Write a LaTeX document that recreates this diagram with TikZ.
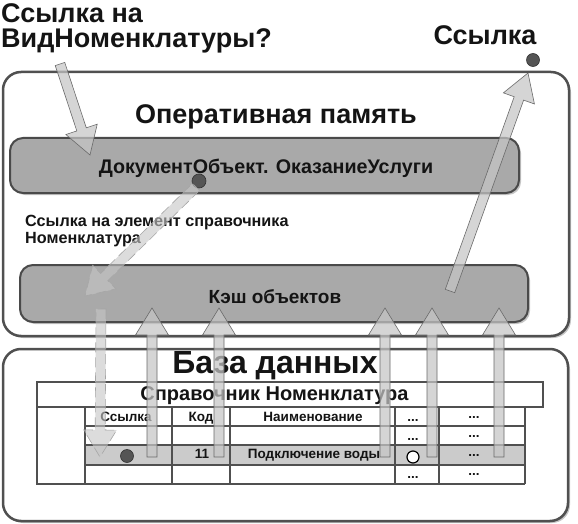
\documentclass[tikz,border=0pt]{standalone}
\usepackage{fontspec}
\setmainfont{Liberation Sans}
\usetikzlibrary{calc, shadows}
\definecolor{BoxFill}{HTML}{A9A9A9}
\definecolor{BoxLine}{HTML}{4A4A4A}
\definecolor{FrameLine}{HTML}{505050}
\definecolor{RowFill}{HTML}{CBCBCB}
\definecolor{ArrowFill}{HTML}{C6C6C6}
\definecolor{ArrowLine}{HTML}{6A6A6A}
\definecolor{DotFill}{HTML}{555555}
\definecolor{GridLine}{HTML}{505050}
\definecolor{TextInk}{HTML}{141414}

% wide arrow with a triangular head, from #2 to #3
\def\shaftw{5pt}
\def\headw{16.5pt}
\def\headlen{27pt}
\newcommand{\blockarrow}[3][]{%
  \coordinate (#2-hb) at ($(#3)!\headlen!(#2)$);
  \draw[blockarrow, #1] ($(#2)!\shaftw!90:(#3)$) -- ($(#2-hb)!\shaftw!90:(#3)$)
    -- ($(#2-hb)!\headw!90:(#3)$) -- (#3) -- ($(#2-hb)!\headw!-90:(#3)$)
    -- ($(#2-hb)!\shaftw!-90:(#3)$) -- ($(#2)!\shaftw!-90:(#3)$) -- cycle;
}

\begin{document}
\begin{tikzpicture}[
    x=1pt,
    y=-1pt,
    every node/.style={text=TextInk},
    heading/.style={font=\fontsize{27}{25}\selectfont\bfseries, align=left, inner sep=0pt},
    title/.style={font=\fontsize{27}{30}\selectfont\bfseries, inner sep=0pt},
    bigtitle/.style={font=\fontsize{32}{34}\selectfont\bfseries, inner sep=0pt},
    boxtext/.style={font=\fontsize{19.7}{21}\selectfont\bfseries, inner sep=0pt},
    note/.style={font=\fontsize{16.2}{17}\selectfont\bfseries, align=left, inner sep=0pt},
    cell/.style={font=\fontsize{13.5}{15}\selectfont\bfseries, inner sep=0pt, anchor=base},
    frame/.style={draw=FrameLine, fill=white, line width=2.5pt, rounded corners=18pt,
        drop shadow={opacity=0.45, shadow xshift=2pt, shadow yshift=-2pt}},
    grbox/.style={draw=BoxLine, fill=BoxFill, line width=2pt, rounded corners=13pt,
        drop shadow={opacity=0.45, shadow xshift=2pt, shadow yshift=-2pt}},
    dot/.style={circle, draw=black!80, fill=DotFill, line width=0.6pt, minimum size=13pt, inner sep=0pt},
    ring/.style={circle, draw=black, fill=white, line width=1.2pt, minimum size=12pt, inner sep=0pt},
    gridline/.style={draw=GridLine, line width=1.3pt},
    blockarrow/.style={draw=ArrowLine, line width=0.6pt, fill=ArrowFill, fill opacity=0.72},
    lost/.style={dash pattern=on 10pt off 5pt, draw=ArrowLine!60, fill opacity=0.6}
]

\useasboundingbox (0,0) rectangle (578,524);

\node[heading, anchor=north west] (question) at (1,3) {Ссылка на\\ВидНоменклатуры?};
\node[heading, anchor=base] (result) at (485,45) {Ссылка};

% operative memory
\node[frame, minimum width=566pt, minimum height=264pt] (ram) at (286,204) {};
\node[title, anchor=base] (ramtitle) at (276,124) {Оперативная память};

\node[grbox, minimum width=509pt, minimum height=55pt] (docobj) at (264.5,165.5) {};
\node[boxtext, anchor=base] (doctitle) at (266,173) {ДокументОбъект. ОказаниеУслуги};

\node[note, anchor=north west] (refnote) at (25,215) {Ссылка на элемент справочника\\Номенклатура};

\node[grbox, minimum width=508pt, minimum height=57pt] (cache) at (274,293.5) {};
\node[boxtext, font=\fontsize{19}{21}\selectfont\bfseries, anchor=base] (cachetitle) at (275,303) {Кэш объектов};

% database
\node[frame, minimum width=565pt, minimum height=172pt] (db) at (285.5,435) {};
\node[bigtitle, anchor=base] (dbtitle) at (275,373) {База данных};

\fill[RowFill] (85,445) rectangle (525,465);
\draw[gridline] (37,382) rectangle (543,407);
\draw[gridline] (37,407) -- (37,484) -- (525,484);
\draw[gridline] (85,407) -- (85,484);
\draw[gridline] (172,407) -- (172,484);
\draw[gridline] (230,407) -- (230,484);
\draw[gridline] (395,407) -- (395,484);
\draw[gridline] (439,407) -- (439,484);
\draw[gridline] (525,407) -- (525,484);
\draw[gridline] (85,426) -- (525,426);
\draw[gridline] (85,445) -- (525,445);
\draw[gridline] (85,465) -- (525,465);

\node[boxtext, font=\fontsize{20}{22}\selectfont\bfseries, anchor=base] (tabletitle) at (274.5,400) {Справочник Номенклатура};

\node[cell] (hRef) at (126,421) {Ссылка};
\node[cell] (hCode) at (201,421) {Код};
\node[cell] (hName) at (313,421) {Наименование};
\node[cell] (hMore) at (413,421) {...};
\node[cell] (hRest) at (474,418) {...};
\node[cell] (aMore) at (413,440) {...};
\node[cell] (aRest) at (474,437) {...};
\node[dot] (rowref) at (127,456) {};
\node[cell] (rowcode) at (202,458) {11};
\node[cell] (rowname) at (314,458) {Подключение воды};
\node[ring] (rowring) at (413,457) {};
\node[cell] (rowrest) at (474,456) {...};
\node[cell] (cMore) at (413,478) {...};
\node[cell] (cRest) at (474,475) {...};

% dots
\node[dot, minimum size=14pt] (refdot) at (199,181) {};
\node[dot] (resultdot) at (533,60) {};

% arrows
\coordinate (qstart) at (60,64);
\coordinate (qtip) at (90,155);
\blockarrow{qstart}{qtip}

\coordinate (refstart) at (196,187);
\coordinate (refmiss) at (85,296);
\blockarrow[lost]{refstart}{refmiss}

\coordinate (readstart) at (101,309);
\coordinate (readrow) at (100,457);
\blockarrow[lost]{readstart}{readrow}

\coordinate (loadA) at (152,457);
\coordinate (cacheA) at (152,308);
\coordinate (loadB) at (219,457);
\coordinate (cacheB) at (219,308);
\coordinate (loadC) at (385,457);
\coordinate (cacheC) at (385,308);
\coordinate (loadD) at (432,457);
\coordinate (cacheD) at (432,308);
\coordinate (loadE) at (499,457);
\coordinate (cacheE) at (499,308);
\blockarrow{loadA}{cacheA}
\blockarrow{loadB}{cacheB}
\blockarrow{loadC}{cacheC}
\blockarrow{loadD}{cacheD}
\blockarrow{loadE}{cacheE}

\coordinate (outstart) at (450,291);
\coordinate (outtip) at (528,73);
\blockarrow{outstart}{outtip}

\end{tikzpicture}
\end{document}
